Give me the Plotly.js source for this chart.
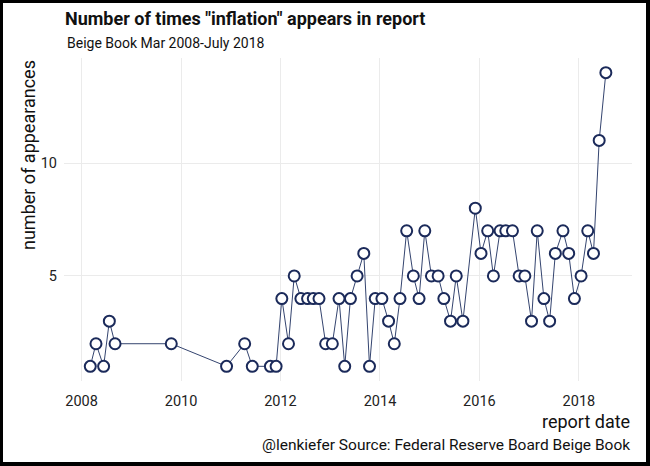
<!DOCTYPE html>
<html>
<head>
<meta charset="utf-8">
<script src="https://cdn.plot.ly/plotly-3.0.1.min.js"></script>
<style>
  html, body { margin: 0; padding: 0; background: #fff; }
  #wrap { position: relative; width: 650px; height: 466px; }
  #chart { width: 650px; height: 466px; }
  #frame { position: absolute; left: 0; top: 0; width: 650px; height: 466px; box-sizing: border-box;
           border-style: solid; border-color: #000; border-width: 3px 4px 4px 3px; pointer-events: none; }
</style>
</head>
<body>
<div id="wrap"><div id="chart"></div><div id="frame"></div></div>
<script>
// Beige Book report dates (approximate release dates)
const reportDates = [
  "2008-03-05","2008-04-16","2008-06-11","2008-07-23","2008-09-03",
  "2009-10-21",
  "2010-12-01",
  "2011-04-13","2011-06-08","2011-10-19","2011-11-30",
  "2012-01-11","2012-02-29","2012-04-11","2012-05-30","2012-07-18","2012-08-29","2012-10-10","2012-11-28",
  "2013-01-16","2013-03-06","2013-04-17","2013-05-29","2013-07-17","2013-09-04","2013-10-16","2013-11-27",
  "2014-01-15","2014-03-05","2014-04-16","2014-05-28","2014-07-16","2014-09-03","2014-10-15","2014-11-26",
  "2015-01-14","2015-03-04","2015-04-15","2015-06-03","2015-07-15","2015-09-02","2015-12-02",
  "2016-01-13","2016-03-02","2016-04-13","2016-06-01","2016-07-13","2016-08-31","2016-10-19","2016-11-30",
  "2017-01-18","2017-03-01","2017-04-19","2017-05-31","2017-07-12","2017-09-06","2017-10-18","2017-11-29",
  "2018-01-17","2018-03-07","2018-04-18","2018-05-30","2018-07-18"
];
// Number of times "inflation" appears
const appearances = [
  1,2,1,3,2,
  2,
  1,
  2,1,1,1,
  4,2,5,4,4,4,4,2,
  2,4,1,4,5,6,1,4,
  4,3,2,4,7,5,4,7,
  5,5,4,3,5,3,8,
  6,7,5,7,7,7,5,5,
  3,7,4,3,6,7,6,4,
  5,7,6,11,14
];
const yTicks = [5, 10];

const navy = "#1b2a5a";
const trace = {
  x: reportDates,
  y: appearances,
  type: "scatter",
  mode: "lines+markers",
  line: { color: "#34446f", width: 1 },
  marker: { size: 11, color: "#ffffff", line: { color: navy, width: 2 } },
  hoverinfo: "x+y"
};

const L = 64, R = 18, T = 58, B = 85;
const plotH = 466 - T - B;
function py(px) { return (466 - B - px) / plotH; }

const layout = {
  width: 650, height: 466,
  margin: { l: L, r: R, t: T, b: B },
  paper_bgcolor: "#ffffff",
  plot_bgcolor: "#ffffff",
  showlegend: false,
  font: { family: "Roboto, 'Noto Sans', sans-serif", color: "#222" },
  title: {
    text: 'Number of times "inflation" appears in report',
    font: { family: "Roboto, sans-serif", size: 18, weight: 700, color: "#111" },
    xref: "container", yref: "container",
    x: 65 / 650, xanchor: "left",
    y: 1 - 19 / 466, yanchor: "middle"
  },
  xaxis: {
    type: "date",
    range: ["2007-08-25", "2019-01-26"],
    tick0: "2008-01-01",
    dtick: "M24",
    tickformat: "%Y",
    showgrid: true,
    gridcolor: "#ebebeb",
    gridwidth: 1,
    zeroline: false,
    showline: false,
    ticks: "",
    ticklabelstandoff: 9,
    tickfont: { size: 14.5, color: "#222" }
  },
  yaxis: {
    range: [0.35, 14.65],
    tickmode: "array",
    tickvals: yTicks,
    ticktext: yTicks.map(String),
    showgrid: true,
    gridcolor: "#ebebeb",
    gridwidth: 1,
    zeroline: false,
    showline: false,
    ticks: "",
    ticklabelstandoff: 6,
    tickfont: { size: 14.5, color: "#222" }
  },
  annotations: [
    {
      text: "Beige Book Mar 2008-July 2018",
      xref: "paper", yref: "paper",
      x: (65 - L) / (650 - L - R), xanchor: "left",
      y: py(43), yanchor: "middle",
      showarrow: false,
      font: { size: 14, color: "#111" }
    },
    {
      text: "number of appearances",
      xref: "paper", yref: "paper",
      x: (28 - L) / (650 - L - R), xanchor: "center",
      y: 1, yanchor: "top",
      textangle: -90,
      showarrow: false,
      font: { size: 18, color: "#111" }
    },
    {
      text: "report date",
      xref: "paper", yref: "paper",
      x: 1, xanchor: "right",
      y: py(421), yanchor: "middle",
      showarrow: false,
      font: { size: 18, color: "#111" }
    },
    {
      text: "@lenkiefer Source: Federal Reserve Board Beige Book",
      xref: "paper", yref: "paper",
      x: 1, xanchor: "right",
      y: py(445), yanchor: "middle",
      showarrow: false,
      font: { size: 15.5, color: "#111" }
    }
  ]
};

Plotly.newPlot("chart", [trace], layout, { displayModeBar: false, staticPlot: true });
</script>
</body>
</html>
